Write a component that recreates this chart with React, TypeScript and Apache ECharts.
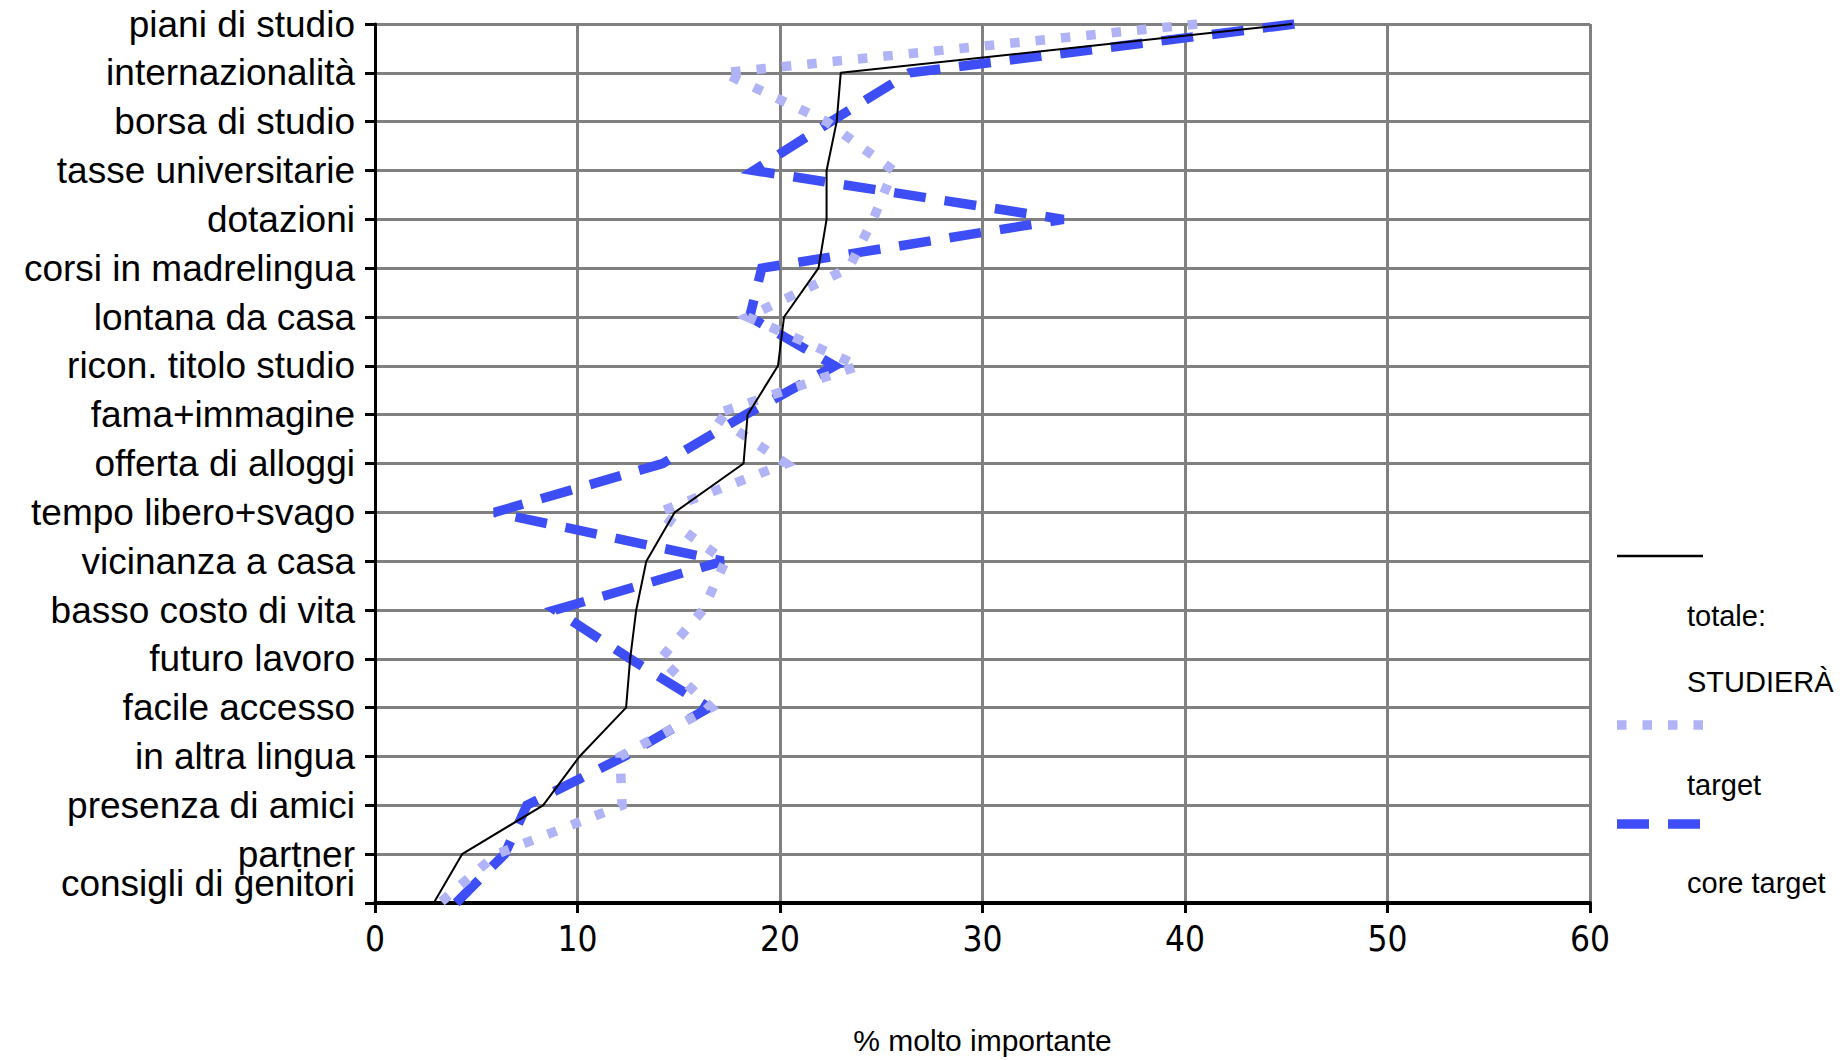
import React, { useEffect, useRef } from "react";
import * as echarts from "echarts";

const categories = [
  "piani di studio",
  "internazionalità",
  "borsa di studio",
  "tasse universitarie",
  "dotazioni",
  "corsi in madrelingua",
  "lontana da casa",
  "ricon. titolo studio",
  "fama+immagine",
  "offerta di alloggi",
  "tempo libero+svago",
  "vicinanza a casa",
  "basso costo di vita",
  "futuro lavoro",
  "facile accesso",
  "in altra lingua",
  "presenza di amici",
  "partner",
  "consigli di genitori",
];

const totale = [45.3, 23.0, 22.8, 22.3, 22.3, 21.9, 20.2, 19.9, 18.4, 18.2, 14.8, 13.4, 12.9, 12.6, 12.4, 10.1, 8.3, 4.3, 2.9];
const target = [40.6, 17.2, 22.3, 25.6, 24.6, 23.4, 18.4, 23.9, 16.7, 20.3, 14.0, 17.3, 16.2, 14.1, 16.6, 12.1, 12.2, 6.0, 3.2];
const coreTarget = [45.4, 26.4, 22.5, 18.7, 34.0, 19.1, 18.5, 22.7, 18.3, 14.2, 5.9, 17.2, 8.9, 12.6, 16.5, 12.3, 7.5, 6.4, 4.0];

const seriesNames = ["totale: STUDIERÀ", "target", "core target"];
const legendLines = [["totale:", "STUDIERÀ"], ["target"], ["core target"]];
const xMin = 0;
const xMax = 60;
const xStep = 10;
const xAxisTitle = "% molto importante";

const COLOR_TOTAL = "#000000";
const COLOR_TARGET = "#B0B4F6";
const COLOR_CORE = "#3D4EF6";
const DASH_TARGET = [9.5, 16];
const DASH_CORE = [32, 19];

const FONT = '"Liberation Sans", Arial, sans-serif';
const NARROW = '"Liberation Sans Narrow", "DejaVu Sans Condensed", "Liberation Sans", sans-serif';

export default function App() {
  const ref = useRef<HTMLDivElement>(null);

  useEffect(() => {
    if (!ref.current) return;
    const chart = echarts.init(ref.current, null, { renderer: "svg" });

    const legX = 1617;
    const legW = 86;
    const textX = 1687;
    const legendSymbols = [
      { y: 556, stroke: COLOR_TOTAL, lineWidth: 2.5, lineDash: null as any },
      { y: 725, stroke: COLOR_TARGET, lineWidth: 9.5, lineDash: DASH_TARGET },
      { y: 824, stroke: COLOR_CORE, lineWidth: 9.5, lineDash: DASH_CORE },
    ];
    const legendTextY = [[616, 682], [785], [883]];

    const graphic: any[] = [];
    legendSymbols.forEach((s, i) => {
      graphic.push({
        type: "line",
        shape: { x1: legX, y1: s.y, x2: legX + legW, y2: s.y },
        style: { stroke: s.stroke, lineWidth: s.lineWidth, lineDash: s.lineDash || undefined, lineCap: "butt" },
        silent: true,
      });
      legendLines[i].forEach((t, j) => {
        graphic.push({
          type: "text",
          x: textX,
          y: legendTextY[i][j],
          style: {
            text: t,
            fontSize: 29,
            fontFamily: FONT,
            fill: "#000",
            textAlign: "left",
            textVerticalAlign: "middle",
            verticalAlign: "middle",
          },
          silent: true,
        });
      });
    });

    const option: any = {
      animation: false,
      backgroundColor: "#ffffff",
      textStyle: { fontFamily: FONT, color: "#000" },
      grid: { left: 375, right: 258, top: 24, bottom: 156, containLabel: false },
      xAxis: {
        type: "value",
        min: xMin,
        max: xMax,
        interval: xStep,
        name: xAxisTitle,
        nameLocation: "middle",
        nameGap: 122,
        nameTextStyle: { fontSize: 30, color: "#000", fontFamily: FONT },
        axisLine: { show: true, lineStyle: { color: "#000", width: 4 } },
        axisTick: { show: true, length: 10, lineStyle: { color: "#000", width: 3 } },
        axisLabel: { fontSize: 35, color: "#000", margin: 18, fontFamily: NARROW },
        splitLine: { show: true, lineStyle: { color: "#808080", width: 3 } },
      },
      yAxis: {
        type: "category",
        data: categories,
        inverse: true,
        boundaryGap: false,
        axisLine: { show: true, onZero: false, lineStyle: { color: "#000", width: 3 } },
        axisTick: { show: true, length: 10, interval: 0, lineStyle: { color: "#000", width: 3 } },
        axisLabel: {
          interval: 0,
          fontSize: 37,
          color: "#000",
          margin: 20,
          lineHeight: 40,
          fontFamily: FONT,
          formatter: (v: string) => (v === categories[categories.length - 1] ? v + "\n" : v),
        },
        splitLine: { show: true, interval: 0, lineStyle: { color: "#808080", width: 3 } },
      },
      graphic,
      series: [
        {
          name: seriesNames[2],
          type: "line",
          data: coreTarget,
          symbol: "none",
          lineStyle: { color: COLOR_CORE, width: 9.5, type: DASH_CORE, cap: "butt", join: "miter", miterLimit: 10 },
          itemStyle: { color: COLOR_CORE },
          z: 2,
        },
        {
          name: seriesNames[1],
          type: "line",
          data: target,
          symbol: "none",
          lineStyle: { color: COLOR_TARGET, width: 9.5, type: DASH_TARGET, cap: "butt", join: "miter", miterLimit: 10 },
          itemStyle: { color: COLOR_TARGET },
          z: 3,
        },
        {
          name: seriesNames[0],
          type: "line",
          data: totale,
          symbol: "none",
          lineStyle: { color: COLOR_TOTAL, width: 2 },
          itemStyle: { color: COLOR_TOTAL },
          z: 4,
        },
      ],
    };

    chart.setOption(option);
    return () => chart.dispose();
  }, []);

  return (
    <div
      ref={ref}
      style={{ position: "fixed", left: 0, top: 0, width: 1848, height: 1060, background: "#fff" }}
    />
  );
}
